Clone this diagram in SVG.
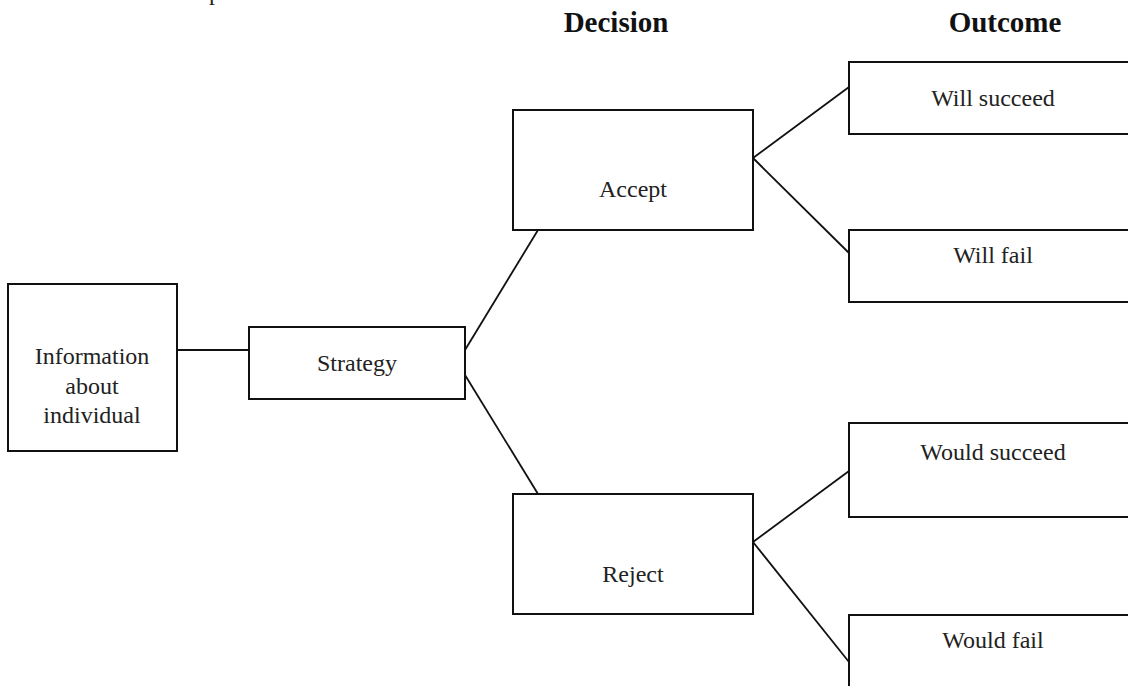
<svg xmlns="http://www.w3.org/2000/svg" width="1128" height="686" viewBox="0 0 1128 686">
<style>
.box{fill:#fff;stroke:#111;stroke-width:2}
.t{font-family:"Liberation Serif","Times New Roman",serif;font-size:24px;fill:#222;text-anchor:middle}
.h{font-family:"Liberation Serif","Times New Roman",serif;font-size:29px;font-weight:bold;fill:#111;text-anchor:middle}
.c line{stroke:#111;stroke-width:1.8}
</style>
<rect width="1128" height="686" fill="#fff"/>
<text class="t" x="215" y="0">p</text>
<text class="h" x="616" y="32">Decision</text>
<text class="h" x="1005" y="32">Outcome</text>
<g class="c" id="connectors">
<line x1="177" y1="350" x2="249" y2="350"/>
<line x1="465" y1="350" x2="538" y2="230"/>
<line x1="465" y1="375" x2="538" y2="494"/>
<line x1="753" y1="158" x2="849" y2="87"/>
<line x1="753" y1="158" x2="849" y2="253"/>
<line x1="753" y1="542" x2="849" y2="471"/>
<line x1="753" y1="542" x2="849" y2="662"/>
</g>
<g id="info">
<rect class="box" x="8" y="284" width="169" height="167"/>
<text class="t" x="92" y="364">Information</text>
<text class="t" x="92" y="394">about</text>
<text class="t" x="92" y="423">individual</text>
</g>
<g id="strategy">
<rect class="box" x="249" y="327" width="216" height="72"/>
<text class="t" x="357" y="371">Strategy</text>
</g>
<g id="accept">
<rect class="box" x="513" y="110" width="240" height="120"/>
<text class="t" x="633" y="197">Accept</text>
</g>
<g id="reject">
<rect class="box" x="513" y="494" width="240" height="120"/>
<text class="t" x="633" y="582">Reject</text>
</g>
<g id="will-succeed">
<rect class="box" x="849" y="62" width="300" height="72"/>
<text class="t" x="993" y="106">Will succeed</text>
</g>
<g id="will-fail">
<rect class="box" x="849" y="230" width="300" height="72"/>
<text class="t" x="993" y="263">Will fail</text>
</g>
<g id="would-succeed">
<rect class="box" x="849" y="423" width="300" height="94"/>
<text class="t" x="993" y="460">Would succeed</text>
</g>
<g id="would-fail">
<rect class="box" x="849" y="615" width="300" height="100"/>
<text class="t" x="993" y="648">Would fail</text>
</g>
</svg>
